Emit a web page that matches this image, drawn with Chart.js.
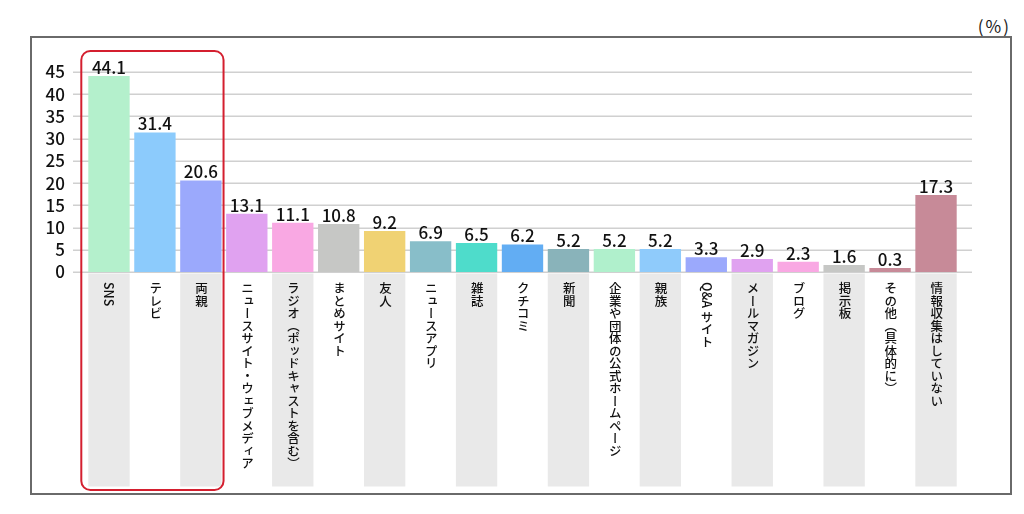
<!DOCTYPE html>
<html lang="ja">
<head>
  <meta charset="UTF-8" />
  <title>情報収集の手段</title>
  <script src="https://cdn.jsdelivr.net/npm/chart.js"></script>
  <style>
    * { box-sizing: border-box; }
    body {
      margin: 0;
      background: #ffffff;
      font-family: 'Noto Sans CJK JP', 'Noto Sans', sans-serif;
      color: #1a1a1a;
    }
    .wrap {
      position: relative;
      width: 1024px;
      height: 514px;
      overflow: hidden;
    }
    .frame {
      position: absolute;
      left: 30px;
      top: 36px;
      width: 982px;
      height: 459px;
      border: 2px solid #6a6a6a;
    }
    .unit {
      position: absolute;
      right: 13px;
      top: 13px;
      font-size: 17px;
      letter-spacing: 2px;
      color: #1a1a1a;
    }
    canvas { position: absolute; left: 0; top: 0; }
    #labels { position: absolute; left: 0; top: 0; }
    .vlabel {
      position: absolute;
      writing-mode: vertical-rl;
      font-size: 12.5px;
      font-weight: 500;
      line-height: 1;
      color: #111;
      white-space: nowrap;
      transform: translateX(-50%);
    }
  </style>
</head>
<body>
  <div class="wrap">
    <div class="frame"></div>
    <div class="unit">(%)</div>
    <canvas id="chart"></canvas>
    <div id="labels"></div>
  </div>

<script>
// 情報収集の手段（%）
const categories = [
  "SNS", "テレビ", "両親", "ニュースサイト・ウェブメディア", "ラジオ（ポッドキャストを含む）",
  "まとめサイト", "友人", "ニュースアプリ", "雑誌", "クチコミ", "新聞",
  "企業や団体の公式ホームページ", "親族", "Q&A サイト", "メールマガジン", "ブログ",
  "掲示板", "その他（具体的に）", "情報収集はしていない"
];
const values = [44.1, 31.4, 20.6, 13.1, 11.1, 10.8, 9.2, 6.9, 6.5, 6.2, 5.2, 5.2, 5.2, 3.3, 2.9, 2.3, 1.6, 0.3, 17.3];
const barColors = [
  "#b4f0cc", "#8ccbfc", "#9ba9fc", "#e0a2f0", "#f9a8e3",
  "#c6c7c5", "#f0d273", "#88bec9", "#4edccb", "#62adf3", "#89b3ba",
  "#b0f0cc", "#8fcbfb", "#9ba9fc", "#e0a2f0", "#f9a8e3",
  "#c6c7c5", "#c78a98", "#c78a98"
];
const yTicks = { min: 0, max: 45, step: 5 };
const highlighted = [0, 2]; // first and last index inside the red box

const FONT = "'Noto Sans CJK JP', 'Noto Sans', sans-serif";

// light gridlines, a bit wider than the plot area
const gridPlugin = {
  id: 'grid',
  beforeDatasetsDraw(chart) {
    const { ctx, chartArea, scales } = chart;
    ctx.save();
    ctx.strokeStyle = '#d0d0d0';
    ctx.lineWidth = 1.5;
    for (let v = yTicks.min; v <= yTicks.max; v += yTicks.step) {
      const y = Math.round(scales.y.getPixelForValue(v)) + 0.25;
      ctx.beginPath();
      ctx.moveTo(chartArea.left - 13, y);
      ctx.lineTo(chartArea.right + 13, y);
      ctx.stroke();
    }
    // gray columns behind every other category label
    const meta = chart.getDatasetMeta(0);
    ctx.fillStyle = '#e9e9e9';
    meta.data.forEach((bar, i) => {
      if (i % 2 !== 0) return;
      ctx.fillRect(bar.x - bar.width / 2, chartArea.bottom + 1.5, bar.width, 485 - chartArea.bottom);
    });
    ctx.restore();
  }
};

// value labels above bars
const valuePlugin = {
  id: 'values',
  afterDatasetsDraw(chart) {
    const { ctx } = chart;
    const meta = chart.getDatasetMeta(0);
    ctx.save();
    ctx.font = '500 17px ' + FONT;
    ctx.fillStyle = '#111';
    ctx.textAlign = 'center';
    ctx.textBaseline = 'alphabetic';
    meta.data.forEach((bar, i) => {
      ctx.fillText(values[i].toFixed(1), bar.x, bar.y - 2);
    });
    ctx.restore();
  }
};

// red rounded box around the top three
const boxPlugin = {
  id: 'box',
  afterDraw(chart) {
    const { ctx } = chart;
    const meta = chart.getDatasetMeta(0);
    const a = meta.data[highlighted[0]];
    const b = meta.data[highlighted[1]];
    const left = a.x - a.width / 2 - 7;
    const right = b.x + b.width / 2 + 2;
    const top = 51, bottom = 490;
    ctx.save();
    ctx.strokeStyle = '#d41f2f';
    ctx.lineWidth = 2;
    ctx.beginPath();
    ctx.roundRect(left, top, right - left, bottom - top, 9);
    ctx.stroke();
    ctx.restore();
  }
};

// vertical (tategaki) category labels, placed from the x scale
const labelPlugin = {
  id: 'vlabels',
  afterRender(chart) {
    const holder = document.getElementById('labels');
    holder.innerHTML = '';
    categories.forEach((name, i) => {
      const d = document.createElement('div');
      d.className = 'vlabel';
      d.textContent = name;
      d.style.left = chart.scales.x.getPixelForValue(i) + 'px';
      d.style.top = (chart.chartArea.bottom + 10) + 'px';
      holder.appendChild(d);
    });
  }
};

const canvas = document.getElementById('chart');
canvas.width = 1024;
canvas.height = 514;

new Chart(canvas, {
  type: 'bar',
  data: {
    labels: categories,
    datasets: [{
      data: values,
      backgroundColor: barColors,
      borderWidth: 0,
      barPercentage: 0.9,
      categoryPercentage: 1,
      minBarLength: 4
    }]
  },
  options: {
    responsive: false,
    animation: false,
    layout: { padding: { top: 72, bottom: 242, left: 0, right: 65 } },
    plugins: {
      legend: { display: false },
      tooltip: { enabled: false }
    },
    scales: {
      x: { display: false },
      y: {
        min: yTicks.min,
        max: yTicks.max,
        grid: { display: false, drawTicks: false },
        border: { display: false },
        ticks: {
          stepSize: yTicks.step,
          autoSkip: false,
          padding: 21,
          color: '#111',
          font: { family: FONT, size: 17, weight: '500' }
        },
        afterFit(scale) { scale.width = 86; }
      }
    }
  },
  plugins: [gridPlugin, valuePlugin, boxPlugin, labelPlugin]
});
</script>
</body>
</html>
